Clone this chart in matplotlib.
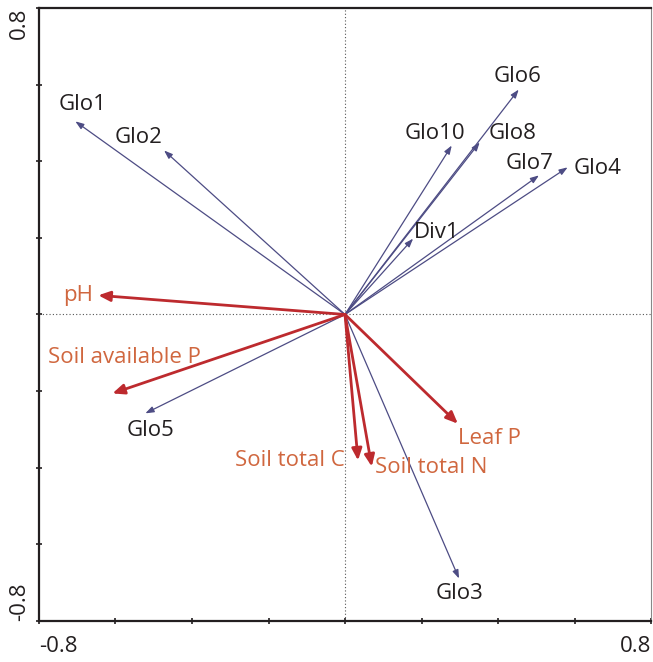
import matplotlib
matplotlib.use("Agg")
import matplotlib.pyplot as plt

# species (response) arrows
species = ["Glo1", "Glo2", "Glo6", "Glo10", "Glo8", "Glo7", "Glo4", "Div1", "Glo5", "Glo3"]
species_x = [-0.705, -0.473, 0.454, 0.279, 0.352, 0.507, 0.582, 0.178, -0.522, 0.298]
species_y = [0.504, 0.428, 0.587, 0.441, 0.449, 0.363, 0.384, 0.198, -0.258, -0.689]

# environmental arrows
env = ["pH", "Soil available P", "Leaf P", "Soil total C", "Soil total N"]
env_x = [-0.645, -0.608, 0.295, 0.034, 0.070]
env_y = [0.050, -0.206, -0.285, -0.381, -0.397]

ticks = [-0.8, -0.6, -0.4, -0.2, 0.0, 0.2, 0.4, 0.6, 0.8]

# label offsets in pixels relative to arrow tips (x right, y up)
sp_off = {"Glo1": (7, 17), "Glo2": (-26, 13), "Glo6": (-1, 13), "Glo10": (-17, 12),
          "Glo8": (33, 9), "Glo7": (-9, 12), "Glo4": (30, -1), "Div1": (24, 6),
          "Glo5": (5, -17), "Glo3": (0, -15)}
env_off = {"pH": (-20, 0, "center"), "Soil available P": (12, 36, "center"),
           "Leaf P": (32, -15, "center"), "Soil total C": (-13, 0, "right"),
           "Soil total N": (3, -1, "left")}

blue = "#4d4c84"
red = "#bd2a2e"
red_txt = "#d0673f"
dark = "#231f20"

plt.rcParams["font.family"] = ["Open Sans", "DejaVu Sans"]

fig = plt.figure(figsize=(6.53, 6.62), dpi=100)
ax = fig.add_axes([0.0597, 0.0619, 0.9373, 0.9261])
ax.set_xlim(-0.8, 0.8)
ax.set_ylim(-0.8, 0.8)

ax.axhline(0, color="#555555", lw=0.8, ls=(0, (1, 2)))
ax.axvline(0, color="#555555", lw=0.8, ls=(0, (1, 2)))

for name, x, y in zip(species, species_x, species_y):
    ax.annotate("", xy=(x, y), xytext=(0, 0),
                arrowprops=dict(arrowstyle="-|>,head_length=0.5,head_width=0.18",
                                color=blue, lw=0.9, shrinkA=0, shrinkB=0))
    dx, dy = sp_off[name]
    ax.annotate(name, xy=(x, y), xytext=(dx, dy), textcoords="offset pixels",
                ha="center", va="center", fontsize=16, color=dark)

for name, x, y in zip(env, env_x, env_y):
    ax.annotate("", xy=(x, y), xytext=(0, 0),
                arrowprops=dict(arrowstyle="-|>,head_length=0.7,head_width=0.3",
                                color=red, lw=2.0, shrinkA=0, shrinkB=0))
    dx, dy, ha = env_off[name]
    ax.annotate(name, xy=(x, y), xytext=(dx, dy), textcoords="offset pixels",
                ha=ha, va="center", fontsize=16, color=red_txt)

# axes frame
for s in ["left", "bottom", "top"]:
    ax.spines[s].set_linewidth(1.6)
    ax.spines[s].set_color("#231f20")
ax.spines["right"].set_linewidth(0.8)
ax.spines["right"].set_color("#888888")

ax.set_xticks(ticks)
ax.set_yticks(ticks)
ax.set_xticklabels(["-0.8"] + [""] * 7 + ["0.8"])
ax.set_yticklabels(["-0.8"] + [""] * 7 + ["0.8"], rotation=90)
ax.tick_params(direction="inout", length=5, width=1.2, labelsize=16, colors=dark, pad=8)
ax.tick_params(axis="y", pad=4)
xl = ax.get_xticklabels()
xl[0].set_ha("left")
xl[-1].set_ha("right")
yl = ax.get_yticklabels()
yl[0].set_va("bottom")
yl[-1].set_va("top")

fig.savefig("out.png", dpi=100)
